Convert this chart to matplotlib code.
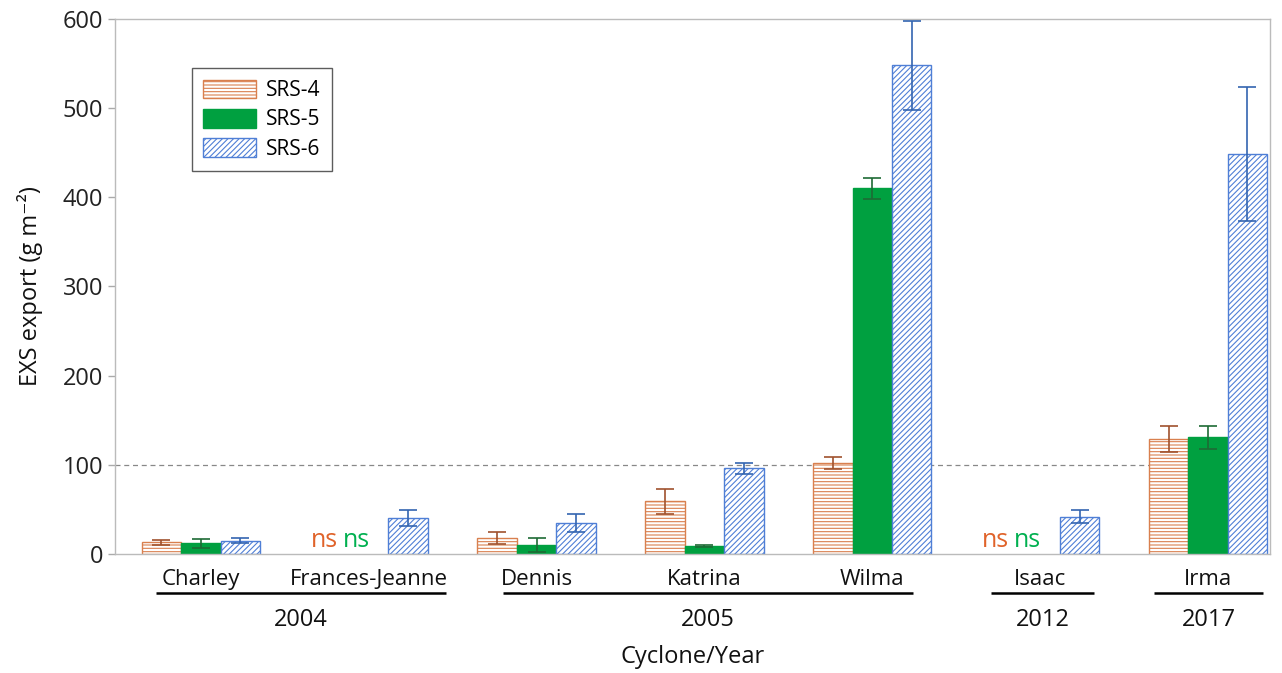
import matplotlib
matplotlib.use("Agg")
import matplotlib.pyplot as plt
import matplotlib.transforms as mtransforms
import numpy as np

cyclones = ["Charley", "Frances-Jeanne", "Dennis", "Katrina", "Wilma", "Isaac", "Irma"]
series = ["SRS-4", "SRS-5", "SRS-6"]
srs4 = [13, np.nan, 18, 59, 102, np.nan, 129]
srs4_err = [3, np.nan, 7, 14, 7, np.nan, 15]
srs5 = [12, np.nan, 10, 9, 410, np.nan, 131]
srs5_err = [5, np.nan, 8, 1, 12, np.nan, 13]
srs6 = [15, 40, 35, 96, 548, 42, 449]
srs6_err = [3, 9, 10, 6, 50, 7, 75]
years = ["2004", "2005", "2012", "2017"]
year_spans = [(-0.27, 1.46), (1.80, 4.24), (4.71, 5.32), (5.68, 6.33)]
yticks = [0, 100, 200, 300, 400, 500, 600]

plt.rcParams['font.family'] = ['Open Sans', 'DejaVu Sans']
plt.rcParams['hatch.linewidth'] = 0.8

fig = plt.figure(figsize=(12.82, 6.73), dpi=100)
ax = fig.add_axes([0.0897, 0.1768, 0.901, 0.795])

x = np.arange(len(cyclones))
w = 0.235
face = ["white", "#00A040", "white"]
edge = ["#D9804F", "#00A040", "#4F7FD6"]
hatch = ["-----", None, "//////"]
ecol = ["#A0522D", "#1E6B35", "#3465B0"]
vals = [srs4, srs5, srs6]
errs = [srs4_err, srs5_err, srs6_err]

for i, (v, e) in enumerate(zip(vals, errs)):
    pos = x + (i - 1) * w
    ax.bar(pos, v, width=w, facecolor=face[i], edgecolor=edge[i], hatch=hatch[i],
           linewidth=1.0, label=series[i], zorder=2)
    ax.errorbar(pos, v, yerr=e, fmt='none', ecolor=ecol[i], elinewidth=1.2,
                capsize=6.5, capthick=1.2, zorder=3)

# ns labels
for ci in [1, 5]:
    ax.text(x[ci] - 0.265, 1, "ns", color="#E0632A", fontsize=18, ha="center", va="bottom")
    ax.text(x[ci] - 0.075, 1, "ns", color="#00B050", fontsize=18, ha="center", va="bottom")

ax.axhline(100, color="#888888", linestyle=(0, (4, 3)), linewidth=0.9, zorder=1)

ax.set_xlim(-0.512, 6.37)
ax.set_ylim(0, 600)
ax.set_yticks(yticks)
ax.set_yticklabels([str(t) for t in yticks], fontsize=17, color="#222222")
ax.set_xticks([])
ax.tick_params(axis='y', length=5, color="#AAAAAA", width=1)
for s in ax.spines.values():
    s.set_color("#BBBBBB")
    s.set_linewidth(1)

trans = mtransforms.blended_transform_factory(ax.transData, ax.transAxes)
for ci, name in enumerate(cyclones):
    ax.text(x[ci], -0.048, name, transform=trans, ha="center", va="center", fontsize=16, color="#111111")
for yr, (a, b) in zip(years, year_spans):
    ax.plot([a, b], [-0.073, -0.073], transform=trans, color="black", linewidth=1.8,
            clip_on=False, solid_capstyle="butt")
    ax.text((a + b) / 2, -0.123, yr, transform=trans, ha="center", va="center", fontsize=17, color="#111111")

ax.text(0.5, -0.193, "Cyclone/Year", transform=ax.transAxes, ha="center", va="center", fontsize=17, color="#111111")
ax.set_ylabel("EXS export (g m\u207B\u00B2)", fontsize=17, color="#111111", labelpad=14)

leg = ax.legend(loc="upper left", bbox_to_anchor=(0.0667, 0.908), borderaxespad=0.0,
                fontsize=15, frameon=True,
                fancybox=False, edgecolor="#333333", handlelength=2.5, handleheight=1.0,
                borderpad=0.55, labelspacing=0.38, handletextpad=0.5)
leg.get_frame().set_linewidth(1.0)

fig.savefig("out.png", dpi=100)
